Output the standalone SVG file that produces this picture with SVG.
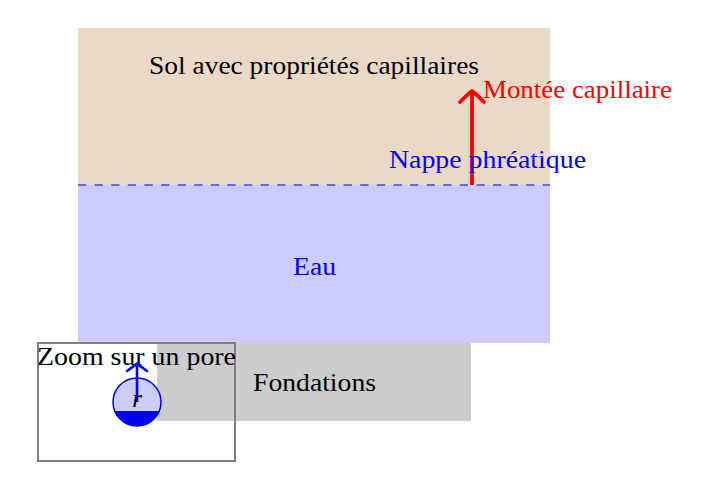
<svg xmlns="http://www.w3.org/2000/svg" width="711" height="490" viewBox="0 0 711 490">
<style>
text{font-family:"Liberation Serif","Times New Roman",serif;font-size:25px}
.blk{fill:#000}
.blu{fill:#0000ff}
.red{fill:#ff0000}
.head{fill:none;stroke-linecap:round;stroke-linejoin:round}
</style>
<rect width="711" height="490" fill="#ffffff"/>
<g id="soil">
<rect x="78" y="28" width="472" height="157" fill="#ebd9c6"/>
<text class="blk" x="149" y="74" textLength="330" lengthAdjust="spacingAndGlyphs">Sol avec propriétés capillaires</text>
</g>
<g id="water">
<rect x="78" y="185" width="472" height="158" fill="#ccccff"/>
<text class="blu" x="293" y="275" textLength="43" lengthAdjust="spacingAndGlyphs">Eau</text>
</g>
<g id="foundations">
<rect x="157" y="343" width="314" height="78" fill="#cccccc"/>
<text class="blk" x="253" y="391" textLength="123" lengthAdjust="spacingAndGlyphs">Fondations</text>
</g>
<g id="connectors">
<line x1="78" y1="185" x2="550" y2="185" stroke="#6a6ae6" stroke-width="1.8" stroke-dasharray="8.3 8.3"/>
<line x1="472" y1="185" x2="472" y2="93" stroke="#ff0000" stroke-width="3.8"/>
<path class="head" d="M460 102 Q468 94 472 91 Q476 94 484 102" stroke="#ff0000" stroke-width="3.8"/>
</g>
<g id="nappe">
<text class="blu" x="389" y="168" textLength="197" lengthAdjust="spacingAndGlyphs">Nappe phréatique</text>
</g>
<g id="montee">
<text class="red" x="483" y="98" textLength="189" lengthAdjust="spacingAndGlyphs">Montée capillaire</text>
</g>
<g id="zoom">
<rect x="38" y="343" width="197" height="118" fill="none" stroke="#808080" stroke-width="2"/>
<text class="blk" x="37" y="365" textLength="199" lengthAdjust="spacingAndGlyphs">Zoom sur un pore</text>
</g>
<g id="pore">
<circle cx="137" cy="402" r="24" fill="#ccccff" stroke="#0000ff" stroke-width="1.5"/>
<path d="M114.75 411 A24 24 0 0 0 159.25 411 Z" fill="#0000ff"/>
<line x1="137" y1="402" x2="137" y2="365" stroke="#0000ff" stroke-width="2.6"/>
<path class="head" d="M127 371 Q134 366 137 363.5 Q140 366 147 371" stroke="#0000ff" stroke-width="2.6"/>
<text class="blk" x="137" y="407" text-anchor="middle" font-style="italic" font-size="24">r</text>
</g>
</svg>
